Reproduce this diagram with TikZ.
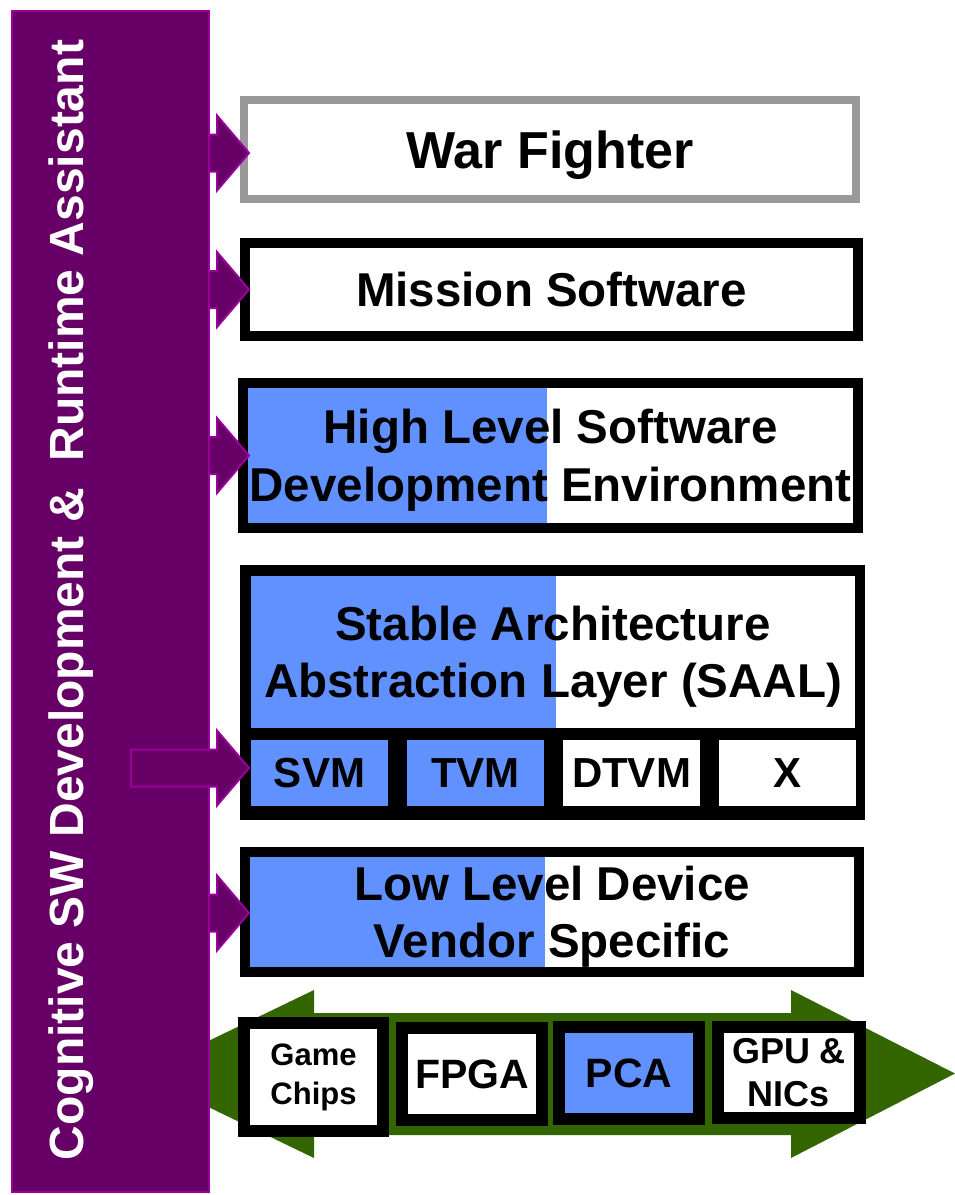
\documentclass[tikz,border=0pt]{standalone}
\usepackage{fontspec}
\setmainfont{Liberation Sans}
\usetikzlibrary{calc}

\definecolor{plum}{HTML}{660066}
\definecolor{plumedge}{HTML}{990099}
\definecolor{layerblue}{HTML}{6190FF}
\definecolor{busgreen}{HTML}{336600}
\definecolor{framegray}{HTML}{999999}

\newcommand\layerfont{\bfseries\fontsize{47.5}{57.5}\selectfont}
\newcommand\titlefont{\bfseries\fontsize{52}{60}\selectfont}
\newcommand\vmfont{\bfseries\fontsize{42}{48}\selectfont}
\newcommand\chipfont{\bfseries\fontsize{41}{48}\selectfont}
\newcommand\smallchipfont{\bfseries\fontsize{31}{39}\selectfont}
\newcommand\gpufont{\bfseries\fontsize{36}{43}\selectfont}
\newcommand\barfont{\bfseries\fontsize{48}{56}\selectfont}

% block arrow from the side bar into a layer:
% #1 extra shaft length inside the bar, #2 target node, #3 vertical shift of the arrow axis
\newcommand\feedarrow[3][0pt]{%
  \draw[feed] let \p1=(bar.east), \p2=([yshift=#3]#2.west) in
    ({\x1-#1},{\y2+18.5pt}) -- ({\x1+8pt},{\y2+18.5pt}) -- ({\x1+8pt},{\y2+37.5pt})
    -- ({\x1+40pt},\y2) -- ({\x1+8pt},{\y2-37.5pt}) -- ({\x1+8pt},{\y2-18.5pt})
    -- ({\x1-#1},{\y2-18.5pt}) -- cycle;}

\begin{document}
\begin{tikzpicture}[x=1pt,y=-1pt,
  box/.style={draw=black, line width=10pt, inner sep=0pt, outer sep=0pt,
    align=center, font=\layerfont, text depth=0pt},
  halfblue/.style={path picture={\fill[layerblue]
    (path picture bounding box.north west) rectangle
    ([xshift=#1]path picture bounding box.south west);}},
  vm/.style={inner sep=0pt, outer sep=0pt, minimum width=137pt,
    minimum height=66pt, font=\vmfont},
  chip/.style={draw=black, line width=12pt, fill=white, inner sep=0pt,
    outer sep=0pt, minimum width=140pt, minimum height=92pt, align=center,
    font=\chipfont},
  feed/.style={fill=plum, draw=plumedge, line width=2pt, line join=miter},
  bartext/.style={text=white, font=\barfont, inner sep=0pt}]

\useasboundingbox (0,0) rectangle (955,1195);

% hardware bus (double arrow) behind everything
\fill[busgreen] (140,1074) -- (314,990) -- (314,1013) -- (791,1013) -- (791,990)
  -- (955,1073.5) -- (791,1158) -- (791,1135) -- (314,1135) -- (314,1158) -- cycle;

% side bar
\node[draw=plumedge, fill=plum, line width=2pt, inner sep=0pt, outer sep=0pt,
  minimum width=197pt, minimum height=1181pt] (bar) at (110.5,601.5) {};

% layers
\node[box, draw=framegray, line width=8pt, minimum width=612pt,
  minimum height=99pt, font=\titlefont] (warf) at (550,149.5) {War Fighter};
\node[box, minimum width=613pt, minimum height=93pt] (mission) at (551.5,289.5)
  {Mission Software};
\node[box, halfblue=304pt, minimum width=615pt, minimum height=145pt] (hlsde)
  at (550.5,455.5) {High Level Software\\Development Environment};

\node[fill=black, inner sep=0pt, outer sep=0pt, minimum width=625pt,
  minimum height=255pt] (saal) at (552.5,692.5) {};
\node[fill=white, halfblue=305pt, inner sep=0pt, outer sep=0pt, align=center,
  font=\layerfont, text depth=0pt, minimum width=604pt, minimum height=152pt]
  (saaltop) at (553,652) {Stable Architecture\\Abstraction Layer (SAAL)};
\node[vm, fill=layerblue] (svm) at (319.5,773) {SVM};
\node[vm, fill=layerblue] (tvm) at (475.5,773) {TVM};
\node[vm, fill=white] (dtvm) at (631.5,773) {DTVM};
\node[vm, fill=white] (xvm) at (787,773) {X};

\node[box, halfblue=300pt, minimum width=614pt, minimum height=120pt] (low)
  at (552,912) {Low Level Device\\Vendor Specific};

% devices on the bus
\node[chip, minimum width=139pt, minimum height=108pt, font=\smallchipfont]
  (game) at (313.5,1077) {Game\\Chips};
\node[chip] (fpga) at (472,1074) {FPGA};
\node[chip, fill=layerblue] (pca) at (629,1073) {PCA};
\node[chip, minimum width=142pt, minimum height=91pt, font=\gpufont]
  (gpu) at (789,1072.5) {GPU \&\\NICs};

% arrows from the assistant into each layer
\feedarrow{warf}{-3.5pt}
\feedarrow{mission}{0pt}
\feedarrow{hlsde}{0pt}
\feedarrow[78pt]{svm}{5pt}
\feedarrow{low}{-1pt}

\node[bartext, rotate=90, anchor=base] (cog) at (83,600)
  {Cognitive SW Development \&~~Runtime Assistant};
\end{tikzpicture}
\end{document}
